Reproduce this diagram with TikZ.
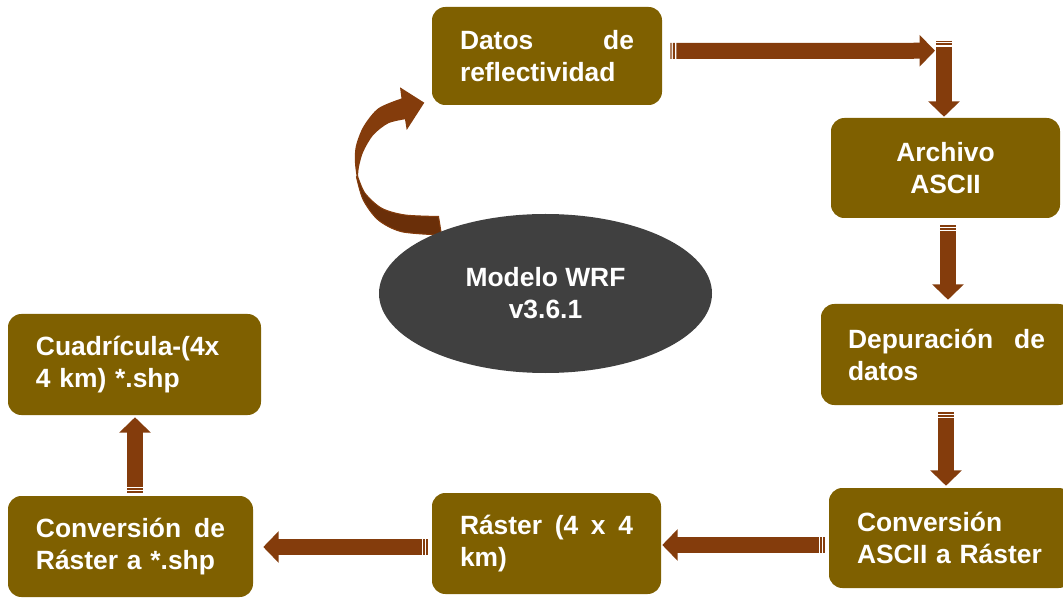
\documentclass[tikz,border=0pt]{standalone}
\usepackage{fontspec}
\setmainfont{Liberation Sans}
\usetikzlibrary{arrows.meta,calc,shapes.geometric}
\definecolor{boxc}{HTML}{7F6000}
\definecolor{arrc}{HTML}{843C0C}
\definecolor{arrd}{HTML}{6A2F09}
\definecolor{ellc}{HTML}{404040}
\newcommand\stripearrow[2]{%
  \draw[barseg] (#1) -- ($(#1)!1pt!(#2)$);
  \draw[barseg] ($(#1)!2pt!(#2)$) -- ($(#1)!3.5pt!(#2)$);
  \draw[blk] ($(#1)!4.5pt!(#2)$) -- (#2);}
\begin{document}
\begin{tikzpicture}[x=0.75pt,y=-0.75pt,
  box/.style={fill=boxc, rounded corners=10pt, inner sep=0pt, text=white,
    font=\bfseries\fontsize{19.8}{24}\selectfont, align=left},
  blk/.style={draw=arrc, line width=12pt, -{Triangle[width=23pt,length=11.5pt]}},
  barseg/.style={draw=arrc, line width=12pt}]
\useasboundingbox (0,0) rectangle (1063,598);

% boxes
\node[box, minimum width=172.5pt, minimum height=73.5pt, text width=130.5pt] (datos) at (547,56) {Datos\hfill de\\reflectividad};
\node[box, align=center, minimum width=171.75pt, minimum height=75pt, text width=130pt] (archivo) at (945.5,168) {Archivo\\ASCII};
\node[box, minimum width=188.25pt, minimum height=75.75pt, text width=147.75pt] (depur) at (946.5,354.5) {Depuración\hfill de\\datos};
\node[box, minimum width=182.25pt, minimum height=75pt, text width=140.25pt] (convascii) at (950.5,538) {Conversión\\ASCII a Ráster};
\node[box, minimum width=171.75pt, minimum height=75.75pt, text width=129.75pt] (raster) at (546.5,543.5) {Ráster\hfill (4\hfill x\hfill 4\\km)};
\node[box, minimum width=183.75pt, minimum height=75.75pt, text width=141.75pt] (convshp) at (130.5,546.5) {Conversión\hfill de\\Ráster a *.shp};
\node[box, minimum width=189.75pt, minimum height=75.75pt, text width=147.75pt] (cuad) at (134.5,364.5) {Cuadrícula-(4x\\4 km) *.shp};

% connector end points
\coordinate (a1s) at ($(datos.east)+(8,-5)$);
\coordinate (a1e) at ($(archivo.north)+(-10.5,-67)$);
\coordinate (a2s) at ($(archivo.north)+(-1.5,-77)$);
\coordinate (a2e) at ($(archivo.north)+(-1.5,-1)$);
\coordinate (a3s) at ($(archivo.south)+(2.5,7)$);
\coordinate (a3e) at ($(depur.north)+(1.5,-4)$);
\coordinate (a4s) at ($(depur.south)+(-0.5,7)$);
\coordinate (a4e) at ($(convascii.north)+(-4.5,-2)$);
\coordinate (a5s) at ($(convascii.west)+(-4,7)$);
\coordinate (a5e) at ($(raster.east)+(1,1.5)$);
\coordinate (a6s) at ($(raster.west)+(-4,3.5)$);
\coordinate (a6e) at ($(convshp.east)+(10,0.5)$);
\coordinate (a7s) at ($(convshp.north)+(4.5,-3)$);
\coordinate (a7e) at ($(cuad.south)+(0.5,2)$);

\stripearrow{a1s}{a1e}
\stripearrow{a2s}{a2e}
\stripearrow{a3s}{a3e}
\stripearrow{a4s}{a4e}
\stripearrow{a5s}{a5e}
\stripearrow{a6s}{a6e}
\stripearrow{a7s}{a7e}

% curved arrow (3D ribbon)
\fill[arrd, draw=arrc, line width=0.8pt] plot[smooth] coordinates {(357.5,176) (365,193.3) (381.7,208.3) (405,215) (438.5,216.5)} -- (441.5,235)
  -- plot[smooth] coordinates {(441.5,235) (401.7,231.7) (378.3,220) (363.3,200) (356.5,177)} -- cycle;
\fill[arrc] plot[smooth] coordinates {(356.7,177) (355,163.3) (355.7,146.7) (363.3,126.7) (378.3,108.3) (401.5,98.5)} -- (400,87.3) -- (424.3,102.7) -- (406.7,130) -- (405,119.3)
  -- plot[smooth] coordinates {(405,119.3) (388.3,123.3) (373.3,135) (363.3,151.7) (359,166.7) (358,177)} -- cycle;

% ellipse
\node[ellipse, fill=ellc, inner sep=0pt, minimum width=249.75pt, minimum height=119.25pt, text=white,
  font=\bfseries\fontsize{19.8}{24}\selectfont, align=center] (wrf) at (545.5,293.5) {Modelo WRF\\v3.6.1};
\end{tikzpicture}
\end{document}
